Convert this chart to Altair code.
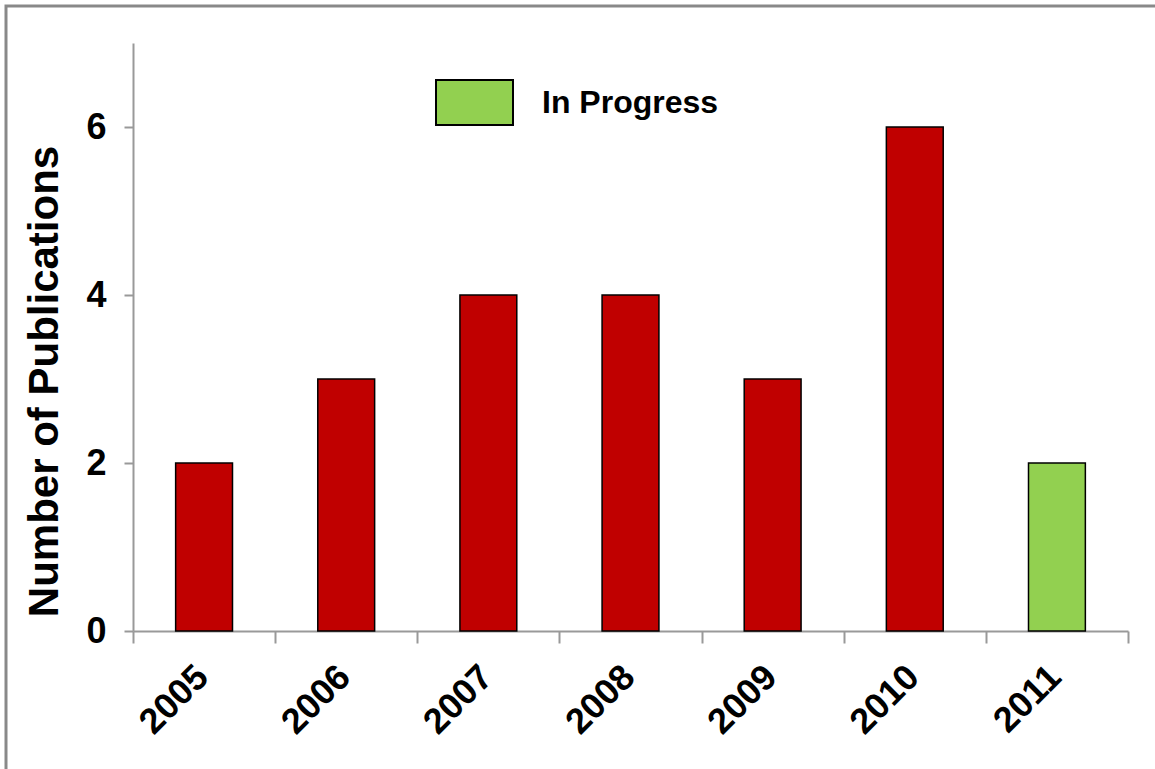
import altair as alt
import pandas as pd

years = ["2005", "2006", "2007", "2008", "2009", "2010", "2011"]
counts = [2, 3, 4, 4, 3, 6, 2]
status = ["Published", "Published", "Published", "Published", "Published", "Published", "In Progress"]
y_ticks = [0, 2, 4, 6]

df = pd.DataFrame({"year": years, "count": counts, "status": status})

W, H = 995, 588
bold_reg = "Liberation Sans, Arial"

bars = alt.Chart(df).mark_bar(stroke="black", strokeWidth=1.5,
                              width=alt.RelativeBandSize(0.4)).encode(
    x=alt.X("year:N", sort=years,
            scale=alt.Scale(paddingInner=0, paddingOuter=0),
            axis=alt.Axis(title=None, labelAngle=-45, labelAlign="right", labelBaseline="top",
                          labelFont=bold_reg, labelFontWeight="bold", labelFontSize=36,
                          labelColor="black", labelPadding=16, labelOffset=-14,
                          tickBand="extent",
                          tickSize=12, tickWidth=2, tickColor="#999999",
                          domainColor="#999999", domainWidth=2)),
    y=alt.Y("count:Q", scale=alt.Scale(domain=[0, 7], nice=False),
            axis=alt.Axis(values=y_ticks, title="Number of Publications", grid=False,
                          labelFont=bold_reg, labelFontWeight="bold", labelFontSize=36,
                          labelColor="black", labelPadding=18,
                          tickSize=9, tickWidth=2, tickColor="#999999",
                          domainColor="#999999", domainWidth=2,
                          titleFont=bold_reg, titleFontWeight="bold", titleFontSize=42,
                          titleColor="black", titleX=-76, titleY=338,
                          titleBaseline="alphabetic", titleAlign="center")),
    color=alt.Color("status:N",
                    scale=alt.Scale(domain=["Published", "In Progress"],
                                    range=["#C00000", "#92D050"]),
                    legend=alt.Legend(title=None, values=["In Progress"], orient="none",
                                      legendX=302, legendY=20,
                                      symbolType="M-1,-0.584L1,-0.584L1,0.584L-1,0.584Z",
                                      symbolSize=5929, symbolStrokeColor="black",
                                      symbolStrokeWidth=2, symbolOpacity=1,
                                      labelFont=bold_reg, labelFontWeight="bold",
                                      labelFontSize=32, labelColor="black", labelOffset=28,
                                      labelLimit=0)),
)

border = alt.Chart(pd.DataFrame({"k": [0]})).mark_rect(
    fill=None, stroke="#898989", strokeWidth=3, clip=False
).encode(
    x=alt.value(-127), x2=alt.value(W + 200), y=alt.value(-37), y2=alt.value(H + 300)
)

chart = alt.layer(border, bars).properties(
    width=W, height=H,
    autosize=alt.AutoSizeParams(type="none"),
    padding={"left": 133, "top": 43, "right": 27, "bottom": 138},
    background="white",
).configure_view(stroke=None)

chart.save("out.html", embed_options={"renderer": "svg", "actions": False})
